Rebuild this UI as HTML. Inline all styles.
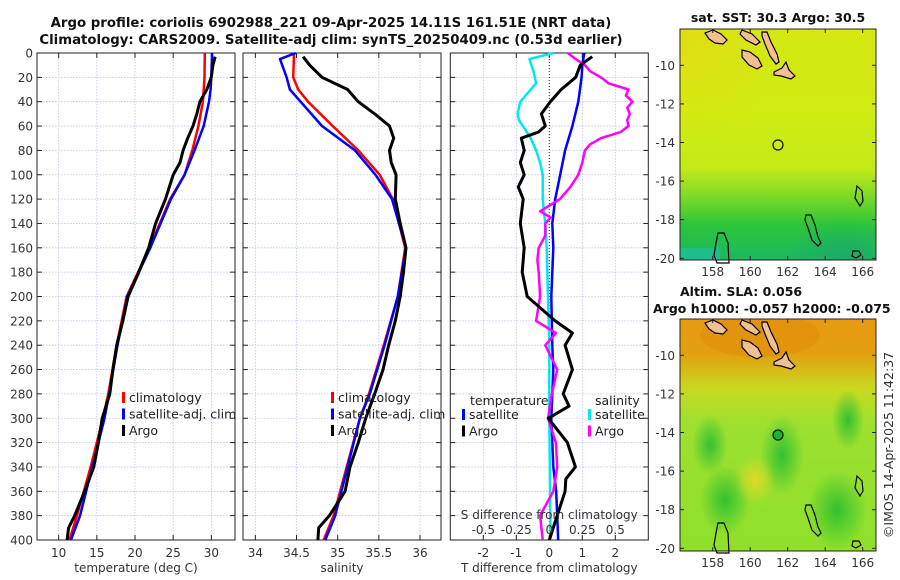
<!DOCTYPE html>
<html><head><meta charset="utf-8">
<style>
body{margin:0;background:#fff;}
svg{display:block;font-family:"DejaVu Sans","Liberation Sans",sans-serif;}
.tk{font-size:12px;fill:#333;}
.tt{font-size:12.5px;font-weight:bold;fill:#111;}
.tt2{font-size:13.3px;font-weight:bold;fill:#111;}
.lg{font-size:12.5px;fill:#222;}
</style></head>
<body>
<svg id="fig" width="900" height="580" viewBox="0 0 900 580">
<defs>
<linearGradient id="sstg" x1="0" y1="0" x2="0" y2="1">
<stop offset="0" stop-color="#d4e812"/><stop offset="0.35" stop-color="#d0ec12"/><stop offset="0.6" stop-color="#c4ea18"/><stop offset="0.72" stop-color="#80da26"/><stop offset="0.85" stop-color="#2cc43a"/><stop offset="1" stop-color="#1cb860"/>
</linearGradient>
<radialGradient id="sstteal" cx="0.7" cy="1" r="0.5"><stop offset="0" stop-color="#1aaa6a" stop-opacity="0.9"/><stop offset="1" stop-color="#1aaa6a" stop-opacity="0"/></radialGradient>
<radialGradient id="sstorg" cx="0" cy="0" r="0.5"><stop offset="0" stop-color="#f0d010" stop-opacity="0.5"/><stop offset="1" stop-color="#f0d010" stop-opacity="0"/></radialGradient>
<linearGradient id="slag" x1="0" y1="0" x2="0" y2="1">
<stop offset="0" stop-color="#e89a10"/><stop offset="0.15" stop-color="#e2a010"/><stop offset="0.3" stop-color="#c8d820"/><stop offset="0.45" stop-color="#9ee030"/><stop offset="1" stop-color="#8ee02a"/>
</linearGradient>
<radialGradient id="blob"><stop offset="0" stop-color="#2ebf30" stop-opacity="0.95"/><stop offset="1" stop-color="#2ebf30" stop-opacity="0"/></radialGradient>
<radialGradient id="yblob"><stop offset="0" stop-color="#e8d828" stop-opacity="0.9"/><stop offset="1" stop-color="#e8d828" stop-opacity="0"/></radialGradient>
<clipPath id="c1"><rect x="680" y="29" width="196" height="231"/></clipPath>
<clipPath id="c2"><rect x="680" y="319" width="196" height="232"/></clipPath>
</defs>

<text class="tt2" x="331" y="27" text-anchor="middle">Argo profile: coriolis 6902988_221 09-Apr-2025 14.11S 161.51E (NRT data)</text>
<text class="tt2" x="331" y="44" text-anchor="middle">Climatology: CARS2009. Satellite-adj clim: synTS_20250409.nc (0.53d earlier)</text>

<g id="p1"></g>
<g id="p2"></g>
<g id="p3"></g>

<g>
<text class="tt" x="778" y="22" text-anchor="middle">sat. SST: 30.3 Argo: 30.5</text>
<g clip-path="url(#c1)">
<rect x="680" y="29" width="196" height="231" fill="url(#sstg)"/>
<rect x="680" y="29" width="196" height="231" fill="url(#sstorg)"/>
<rect x="760" y="180" width="120" height="80" fill="url(#sstteal)"/>
<rect x="680" y="248" width="40" height="12" fill="#1cc0a0" opacity="0.7"/>
</g>
<g id="isl1"></g>
<circle cx="778" cy="145" r="5" fill="none" stroke="#111" stroke-width="1.2"/>
<rect x="680" y="29" width="196" height="231" fill="none" stroke="#222"/>
<g id="ax1"></g>
</g>

<g>
<text class="tt" x="680" y="296">Altim. SLA: 0.056</text>
<text class="tt" x="653" y="313">Argo h1000: -0.057 h2000: -0.075</text>
<g clip-path="url(#c2)">
<rect x="680" y="319" width="196" height="232" fill="url(#slag)"/>
<ellipse cx="760" cy="335" rx="60" ry="22" fill="#e08a08" opacity="0.5"/>
<ellipse cx="710" cy="445" rx="18" ry="30" fill="url(#blob)"/>
<ellipse cx="782" cy="455" rx="22" ry="40" fill="url(#blob)"/>
<ellipse cx="848" cy="420" rx="16" ry="30" fill="url(#blob)"/>
<ellipse cx="725" cy="500" rx="25" ry="35" fill="url(#blob)"/>
<ellipse cx="837" cy="510" rx="30" ry="40" fill="url(#blob)"/>
<ellipse cx="755" cy="480" rx="20" ry="25" fill="url(#yblob)"/>
</g>
<g id="isl2"></g>
<circle cx="778" cy="435" r="5" fill="#22b030" stroke="#111" stroke-width="1.2"/>
<rect x="680" y="319" width="196" height="232" fill="none" stroke="#222"/>
<g id="ax2"></g>
</g>
<text x="893" y="445" transform="rotate(-90 893 445)" text-anchor="middle" font-size="12.5" fill="#333">©IMOS 14-Apr-2025 11:42:37</text>
</svg>

<script>
const climDepth = [0,20,30,40,60,80,100,120,160,200,240,280,300,340,380,400];
const climT     = [29.15,29.1,29.0,28.9,28.3,27.5,26.5,24.6,21.9,18.9,17.6,16.5,15.8,14.2,12.4,11.4];
const satT      = [30.1,30.0,29.9,29.7,29.0,27.8,26.5,24.7,22.0,19.0,17.7,16.6,16.0,14.4,12.8,11.6];
const argoDepth = [3,10,20,30,40,50,60,70,80,90,100,120,140,160,180,200,220,240,260,280,300,320,340,360,380,390,400];
const argoT     = [30.5,30.2,30.0,29.4,28.5,28.1,27.6,26.9,26.3,25.9,25.0,24.0,22.7,21.8,20.5,19.1,18.4,17.6,17.1,16.7,15.7,15.2,14.6,13.4,12.1,11.3,11.1];
const climS     = [34.47,34.46,34.52,34.64,34.94,35.25,35.51,35.67,35.82,35.73,35.56,35.38,35.27,35.11,34.95,34.83];
const satSDepth = [0,5,20,30,40,60,80,100,120,160,200,240,280,300,340,380,400];
const satSfull  = [34.49,34.30,34.38,34.42,34.55,34.81,35.21,35.46,35.66,35.83,35.73,35.57,35.39,35.27,35.12,34.97,34.85];
const argoS     = [34.58,34.66,34.81,35.12,35.25,35.45,35.63,35.68,35.63,35.65,35.71,35.70,35.76,35.83,35.80,35.76,35.70,35.62,35.55,35.45,35.34,35.25,35.15,35.09,34.9,34.77,34.76];
const dDepth    = [0,10,20,40,60,80,100,120,140,160,200,240,260,300,340,360,400];
const satTdiff  = [1.06,1.0,0.98,0.88,0.7,0.48,0.33,0.18,0.09,0.12,0.06,0.09,0.12,0.06,0.12,0.21,0.27];
const adDepth   = [3,10,20,30,40,50,60,65,70,80,90,100,110,120,140,160,180,200,220,230,240,260,280,290,300,320,340,350,360,380,400];
const argoTdiff = [1.3,0.94,0.8,0.36,0.03,-0.24,-0.12,-0.33,-0.85,-0.76,-0.88,-0.76,-0.94,-0.79,-0.88,-0.76,-0.82,-0.67,0.18,0.7,0.48,0.7,0.42,0.6,-0.03,0.55,0.79,0.5,0.48,0.24,0.0];
const sdDepth   = [0,5,10,15,20,25,30,35,40,45,50,55,60,65,70,75,80,90,100,110,120,130,135,140,150,160,170,180,200,220,230,240,260,280,300,320,340,360,380,400];
const argoSdiff = [0.14,0.2,0.27,0.31,0.39,0.45,0.6,0.58,0.63,0.59,0.61,0.59,0.6,0.54,0.39,0.31,0.27,0.25,0.22,0.16,0.08,-0.07,0.01,-0.03,-0.03,-0.08,-0.09,-0.08,-0.07,-0.1,0.05,-0.03,0.06,0.02,-0.01,0.05,0.06,0.03,-0.07,-0.05];
const cDepth    = [0,5,15,25,30,40,50,55,60,70,80,90,100,120,140,160,180,200,240,300,400];
const satSdiff  = [0.03,-0.15,-0.12,-0.1,-0.14,-0.22,-0.24,-0.23,-0.2,-0.14,-0.1,-0.07,-0.05,-0.05,-0.03,-0.02,-0.015,-0.01,0.0,0.0,0.01];
const depthTicks = [0,20,40,60,80,100,120,140,160,180,200,220,240,260,280,300,320,340,360,380,400];
const tTicks = [10,15,20,25,30];
const sTicks = [34,34.5,35,35.5,36];
const dTicks = [-2,-1,0,1,2];
const sdTicks = [-0.5,-0.25,0,0.25,0.5];
const sdTickLabels = ["-0.5","-0.25","0","0.25","0.5"];
const lonTicks = [158,160,162,164,166];
const latTicks = [-10,-12,-14,-16,-18,-20];

const NS="http://www.w3.org/2000/svg";
function el(tag,attrs,parent){const e=document.createElementNS(NS,tag);for(const k in attrs)e.setAttribute(k,attrs[k]);parent.appendChild(e);return e;}
const Y0=53,Y1=540;
const yD=d=>Y0+(d/400)*(Y1-Y0);

function panel(g,x0,x1,dmin,dmax,ticks,labels,showY,xlabel,name){
  const xs=v=>x0+(v-dmin)/(dmax-dmin)*(x1-x0);
  for(const t of ticks){const l=el('line',{x1:xs(t),x2:xs(t),y1:Y0,y2:Y1,stroke:'#b8c4ec','stroke-width':0.8,'stroke-dasharray':'1.5,1.5'},g);
    
    }
  for(const d of depthTicks){const l=el('line',{x1:x0,x2:x1,y1:yD(d),y2:yD(d),stroke:'#b8c4ec','stroke-width':0.8,'stroke-dasharray':'1.5,1.5'},g);
    
    
    el('line',{x1:x0,x2:x0+5,y1:yD(d),y2:yD(d),stroke:'#222'},g);
    el('line',{x1:x1-5,x2:x1,y1:yD(d),y2:yD(d),stroke:'#222'},g);
    if(showY){const t=el('text',{x:x0-4,y:yD(d)+4.5,'text-anchor':'end',class:'tk'},g);t.textContent=d;
      
      }}
  ticks.forEach((t,i)=>{el('line',{x1:xs(t),x2:xs(t),y1:Y1,y2:Y1-5,stroke:'#222'},g);el('line',{x1:xs(t),x2:xs(t),y1:Y0,y2:Y0+5,stroke:'#222'},g);
    const tx=el('text',{x:xs(t),y:Y1+17,'text-anchor':'middle',class:'tk'},g);tx.textContent=labels[i];
    
    });
  const xl=el('text',{x:(x0+x1)/2,y:Y1+32,'text-anchor':'middle',class:'tk','font-size':'12.5px'},g);xl.textContent=xlabel;
  
  
  const fr=el('rect',{x:x0,y:Y0,width:x1-x0,height:Y1-Y0,fill:'none',stroke:'#222'},g);
  
  
  return xs;
}
function line(g,xs,vals,depths,color,w,name){
  const pts=vals.map((v,i)=>xs(v).toFixed(1)+','+yD(depths[i]).toFixed(1)).join(' ');
  const p=el('polyline',{points:pts,fill:'none',stroke:color,'stroke-width':w,'stroke-linejoin':'round'},g);
  
  
}
function legend(g,x,y,items){
  items.forEach((it,i)=>{el('rect',{x:x,y:y+i*16.5-9,width:3,height:11,fill:it[1]},g);
    const t=el('text',{x:x+7,y:y+i*16.5+1,class:'lg'},g);t.textContent=it[0];
    
    });
}

const g1=document.getElementById('p1');
const xT=panel(g1,37,235,7.16,33.1,tTicks,tTicks.map(String),true,'temperature (deg C)','temperature');
line(g1,xT,climT,climDepth,'#ff0000',2.5,'climatology-temperature-line');
line(g1,xT,satT,climDepth,'#0000ff',2.5,'satellite-temperature-line');
line(g1,xT,argoT,argoDepth,'#000',3,'argo-temperature-line');
legend(g1,122,401,[['climatology','#ff0000'],['satellite-adj. clim','#0000ff'],['Argo','#000']]);

const g2=document.getElementById('p2');
const xS=panel(g2,243,441,33.85,36.255,sTicks,['34','34.5','35','35.5','36'],false,'salinity','salinity');
line(g2,xS,climS,climDepth,'#ff0000',2.5,'climatology-salinity-line');
line(g2,xS,satSfull,satSDepth,'#0000ff',2.5,'satellite-salinity-line');
line(g2,xS,argoS,argoDepth,'#000',3,'argo-salinity-line');
legend(g2,331,401,[['climatology','#ff0000'],['satellite-adj. clim','#0000ff'],['Argo','#000']]);

const g3=document.getElementById('p3');
const xDT=panel(g3,450.3,648.3,-3,3,dTicks,dTicks.map(String),false,'T difference from climatology','difference');
const xDS=v=>xDT(v*4);
const zl=el('line',{x1:xDT(0),x2:xDT(0),y1:Y0,y2:Y1,stroke:'#333','stroke-width':1,'stroke-dasharray':'1,2'},g3);


line(g3,xDT,satTdiff,dDepth,'#0000ff',2.5,'satellite-t-diff-line');
line(g3,xDS,satSdiff,cDepth,'#00e8ee',2.5,'satellite-s-diff-line');
line(g3,xDS,argoSdiff,sdDepth,'#ff00ff',2.5,'argo-s-diff-line');
line(g3,xDT,argoTdiff,adDepth,'#000',3,'argo-t-diff-line');
const st=el('text',{x:xDT(0),y:519,'text-anchor':'middle',class:'tk','font-size':'12.5px'},g3);st.textContent='S difference from climatology';


sdTicks.forEach((t,i)=>{const tx=el('text',{x:xDS(t),y:534,'text-anchor':'middle',class:'tk'},g3);tx.textContent=sdTickLabels[i];
  
  });
const lt=el('text',{x:470,y:405,class:'lg'},g3);lt.textContent='temperature';


const ls=el('text',{x:595,y:405,class:'lg'},g3);ls.textContent='salinity';


legend(g3,462,418,[['satellite','#0000ff'],['Argo','#000']]);
legend(g3,588,418,[['satellite','#00e8ee'],['Argo','#ff00ff']]);

function mapAxes(id,yTop,yBot,lat10y){
  const g=document.getElementById(id);
  const xl=lon=>712.7+(lon-158)*18.75;
  const yl=lat=>lat10y+(-10-lat)*19.3;
  lonTicks.forEach(l=>{el('line',{x1:xl(l),x2:xl(l),y1:yBot,y2:yBot-4,stroke:'#222'},g);el('line',{x1:xl(l),x2:xl(l),y1:yTop,y2:yTop+4,stroke:'#222'},g);
    const t=el('text',{x:xl(l),y:yBot+16,'text-anchor':'middle',class:'tk'},g);t.textContent=l;
    
    });
  latTicks.forEach(l=>{el('line',{x1:680,x2:684,y1:yl(l),y2:yl(l),stroke:'#222'},g);el('line',{x1:872,x2:876,y1:yl(l),y2:yl(l),stroke:'#222'},g);
    const t=el('text',{x:675,y:yl(l)+4.5,'text-anchor':'end',class:'tk'},g);t.textContent=l;
    
    });
}
mapAxes('ax1',29,260,65.3);
mapAxes('ax2',319,551,355.3);

function islands(id,dy){
  const g=document.getElementById(id);
  const shapes=[
   ['M705,33 l8,-3 8,4 6,6 -4,4 -8,-1 -6,-4z','#f0c090'],
   ['M742,30 l10,4 8,8 -4,3 -10,-5 -6,-6z','#f0c090'],
   ['M742,50 l8,2 8,6 4,8 -5,3 -8,-4 -7,-8z','#f0c090'],
   ['M762,32 l5,0 4,10 6,12 2,8 -3,2 -6,-8 -5,-12 -3,-8z','#f0c090'],
   ['M774,72 l8,-4 4,-6 3,8 6,6 -4,3 -10,-3 -7,-1z','#f0c090'],
   ['M857,186 l5,5 1,10 -3,5 -5,-8z','none'],
   ['M718,233 l6,0 4,10 1,20 -12,0 -3,-8 2,-12z','none'],
   ['M806,215 l5,0 4,10 3,12 3,6 -3,3 -6,-6 -4,-12 -3,-8z','none'],
   ['M853,251 l6,0 2,4 -5,3 -4,-2z','none']];
  shapes.forEach(s=>{const p=el('path',{d:s[0],fill:s[1],stroke:'#000','stroke-width':1.2,transform:'translate(0,'+dy+')'},g);
    
    });
}
islands('isl1',0);
islands('isl2',290);
</script>
</body></html>
